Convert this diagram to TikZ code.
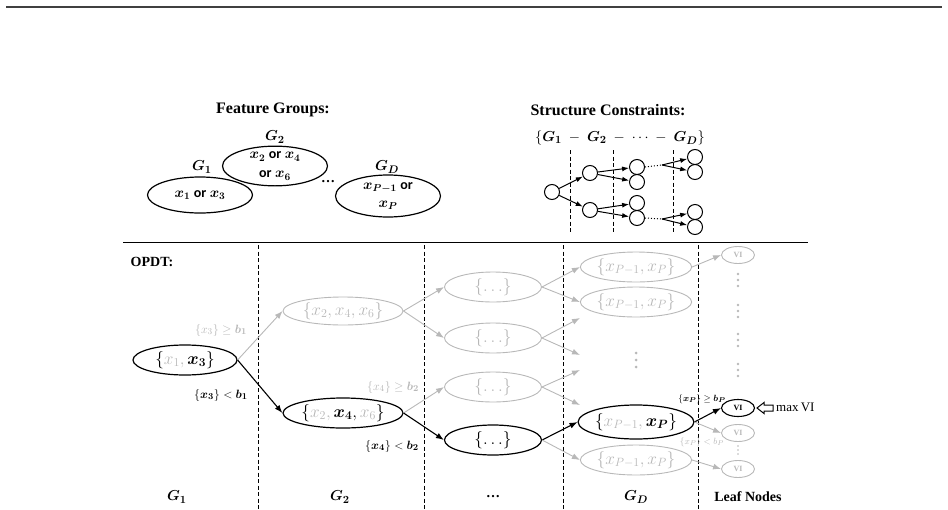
\documentclass[tikz,border=0pt]{standalone}
\usepackage{amsmath}
\usepackage{amssymb}
\usepackage{bm}
\usepackage{fontspec}
\setmainfont{Liberation Serif}
\newfontfamily\orfont{Carlito}
\usetikzlibrary{shapes.geometric,arrows.meta}
\colorlet{faded}{black!28}
\newcommand{\fs}[1]{\fontsize{#1}{#1}\selectfont}
\newcommand{\OR}{{\orfont\bfseries or}}
\begin{document}
\begin{tikzpicture}[x=1pt,y=-1pt,
    every node/.style={inner sep=0pt},
    grp/.style={ellipse,draw,line width=1.2pt,minimum width=105pt,minimum height=36pt,align=center,font=\fontsize{14}{19}\selectfont},
    setnode/.style={ellipse,draw,line width=1.2pt,minimum width=104pt,minimum height=30pt,font=\fs{17}},
    fset/.style={setnode,draw=faded,text=faded,line width=0.9pt},
    leaf/.style={ellipse,draw,line width=1.1pt,minimum width=33pt,minimum height=17pt,font=\fs{8}\bfseries},
    fleaf/.style={leaf,draw=faded,text=faded,line width=0.9pt},
    tnode/.style={circle,draw,line width=1pt,minimum size=15pt},
    arr/.style={line width=1.1pt,-{Latex[length=8pt,width=6pt]}},
    farr/.style={arr,draw=faded,line width=0.9pt},
    tarr/.style={line width=1pt,-{Latex[length=7pt,width=5pt]}},
    colsep/.style={line width=0.7pt,dash pattern=on 4pt off 2.5pt},
    headtxt/.style={font=\fs{16}\bfseries}]
    \useasboundingbox (0,0) rectangle (948,509);
    \draw[line width=2pt,black!75] (6,7) -- (942,7);
    \node[headtxt] (fg) at (273,110) {Feature Groups:};
    \node[headtxt] (sc) at (608,110) {Structure Constraints:};
    \node[grp] (g1) at (200,195) {$\bm{x_1}$ \OR\ $\bm{x_3}$};
    \node[grp,minimum height=38pt] (g2) at (275,166) {$\bm{x_2}$ \OR\ $\bm{x_4}$\\\OR\ $\bm{x_6}$};
    \node[grp,minimum height=42pt,font=\fontsize{14}{18}\selectfont] (gd) at (388,196) {$\bm{x_{P-1}}$ \OR\\$\bm{x_P}$};
    \node[font=\fs{15}] (lg1) at (202,167) {$\bm{G_1}$};
    \node[font=\fs{15}] (lg2) at (275,137) {$\bm{G_2}$};
    \node[font=\fs{15}] (lgd) at (387,167) {$\bm{G_D}$};
    \node[font=\fs{14}\bfseries] (gdots) at (328,182) {\ldots};
    \node[font=\fs{15}] (sct) at (620,138) {$\{\bm{G_1}\ -\ \bm{G_2}\ -\ \cdots\ -\ \bm{G_D}\}$};
    \foreach \x in {570,613,673}{
        \draw[colsep] (\x,150) -- (\x,232);
    }
    \node[tnode] (t0) at (552,192) {};
    \node[tnode] (t1) at (590,173) {};
    \node[tnode] (t2) at (590,210) {};
    \node[tnode] (t3) at (637,167) {};
    \node[tnode] (t4) at (637,182) {};
    \node[tnode] (t5) at (637,203) {};
    \node[tnode] (t6) at (637,218) {};
    \node[tnode] (t7) at (695,157) {};
    \node[tnode] (t8) at (695,172) {};
    \node[tnode] (t9) at (695,212) {};
    \node[tnode] (t10) at (695,227) {};
    \coordinate (u1) at (662,165);
    \coordinate (u2) at (662,219);
    \foreach \a/\b in {t0/t1,t0/t2,t1/t3,t1/t4,t2/t5,t2/t6,u1/t7,u1/t8,u2/t9,u2/t10}{
        \draw[tarr] (\a) -- (\b);
    }
    \draw[line width=1pt,dotted] (t3.east) -- (u1);
    \draw[line width=1pt,dotted] (t6.east) -- (u2);
    \draw[double,double distance=2.2pt,line width=0.9pt] (123,240.5) -- (808,240.5);
    \node[font=\fs{14}\bfseries] (opdt) at (152,262) {OPDT:};
    \foreach \x in {258,424,563,698}{
        \draw[colsep] (\x,245) -- (\x,509);
    }
    \node[setnode] (r) at (185,360) {$\{\textcolor{faded}{x_1,}\,\bm{x_3}\}$};
    \node[fset,minimum width=120pt,minimum height=28pt] (a1) at (343,311) {$\{x_2,x_4,x_6\}$};
    \node[setnode,minimum width=120pt] (a2) at (343,413) {$\{\textcolor{faded}{x_2,}\,\bm{x_4},\textcolor{faded}{x_6}\}$};
    \node[fset,minimum width=97pt] (b1) at (493,287) {$\{\ldots\}$};
    \node[fset,minimum width=97pt] (b2) at (493,338) {$\{\ldots\}$};
    \node[fset,minimum width=97pt] (b3) at (493,387) {$\{\ldots\}$};
    \node[setnode,minimum width=97pt] (b4) at (493,440) {$\{\ldots\}$};
    \node[fset] (d1) at (636,267) {$\{x_{P-1},x_P\}$};
    \node[fset] (d2) at (636,302) {$\{x_{P-1},x_P\}$};
    \node[setnode,minimum height=34pt] (d3) at (636,422) {$\{\textcolor{faded}{x_{P-1},}\,\bm{x_P}\}$};
    \node[fset] (d4) at (636,460) {$\{x_{P-1},x_P\}$};
    \node[fleaf] (v1) at (738,255) {VI};
    \node[leaf] (v2) at (738,408) {VI};
    \node[fleaf] (v3) at (738,433) {VI};
    \node[fleaf] (v4) at (738,469) {VI};
    \foreach \y in {353,360,367}{
        \fill[faded] (636,\y) circle (1.5);
    }
    \foreach \y in {274,280,286,305,311,317,334,340,346,364,370,376}{
        \fill[faded] (738,\y) circle (1.4);
    }
    \foreach \y in {446,450,454}{
        \fill[faded] (738,\y) circle (0.9);
    }
    \coordinate (e1) at (580,318);
    \coordinate (e2) at (580,355);
    \coordinate (e3) at (580,370);
    \coordinate (e4) at (580,405);
    \draw[farr] (r.east) -- (a1.west);
    \draw[arr] (r.east) -- (a2.west);
    \draw[farr] (a1.east) -- (b1.west);
    \draw[farr] (a1.east) -- (b2.west);
    \draw[farr] (a2.east) -- (b3.west);
    \draw[arr] (a2.east) -- (b4.west);
    \draw[farr] (b1.east) -- (d1.west);
    \draw[farr] (b1.east) -- (d2.west);
    \draw[farr] (b2.east) -- (e1);
    \draw[farr] (b2.east) -- (e2);
    \draw[farr] (b3.east) -- (e3);
    \draw[farr] (b3.east) -- (e4);
    \draw[arr] (b4.east) -- (d3.west);
    \draw[farr] (b4.east) -- (d4.west);
    \draw[farr] (d1.east) -- (v1.west);
    \draw[arr] (d3.east) -- (v2.west);
    \draw[farr] (d3.east) -- (v3.west);
    \draw[farr] (d4.east) -- (v4.west);
    \node[font=\fs{13}] (c1) at (221,330) {$\textcolor{faded}{\{x_3\}\geq\bm{b_1}}$};
    \node[font=\fs{13}] (c2) at (221,395) {$\{\bm{x_3}\}<\bm{b_1}$};
    \node[font=\fs{13}] (c3) at (393,387) {$\textcolor{faded}{\{x_4\}\geq\bm{b_2}}$};
    \node[font=\fs{13}] (c4) at (392,446) {$\{\bm{x_4}\}<\bm{b_2}$};
    \node[font=\fs{9.5}] (c5) at (702,399) {$\{\bm{x_P}\}\geq\bm{b_P}$};
    \node[font=\fs{9.5}] (c6) at (702,442) {$\textcolor{faded}{\{x_P\}<b_P}$};
    \draw[line width=1pt] (757,408) -- (764,402.5) -- (764,405) -- (773,405) -- (773,411) -- (764,411) -- (764,413.5) -- cycle;
    \node[font=\fs{13},anchor=west] (mx) at (776,407) {max\,VI};
    \node[font=\fs{15}] (bg1) at (177,497) {$\bm{G_1}$};
    \node[font=\fs{15}] (bg2) at (340,497) {$\bm{G_2}$};
    \node[font=\fs{14}\bfseries] (bgd) at (493,497) {\ldots};
    \node[font=\fs{15}] (bgn) at (636,497) {$\bm{G_D}$};
    \node[font=\fs{14}\bfseries] (bleaf) at (748,497) {Leaf Nodes};
\end{tikzpicture}
\end{document}
